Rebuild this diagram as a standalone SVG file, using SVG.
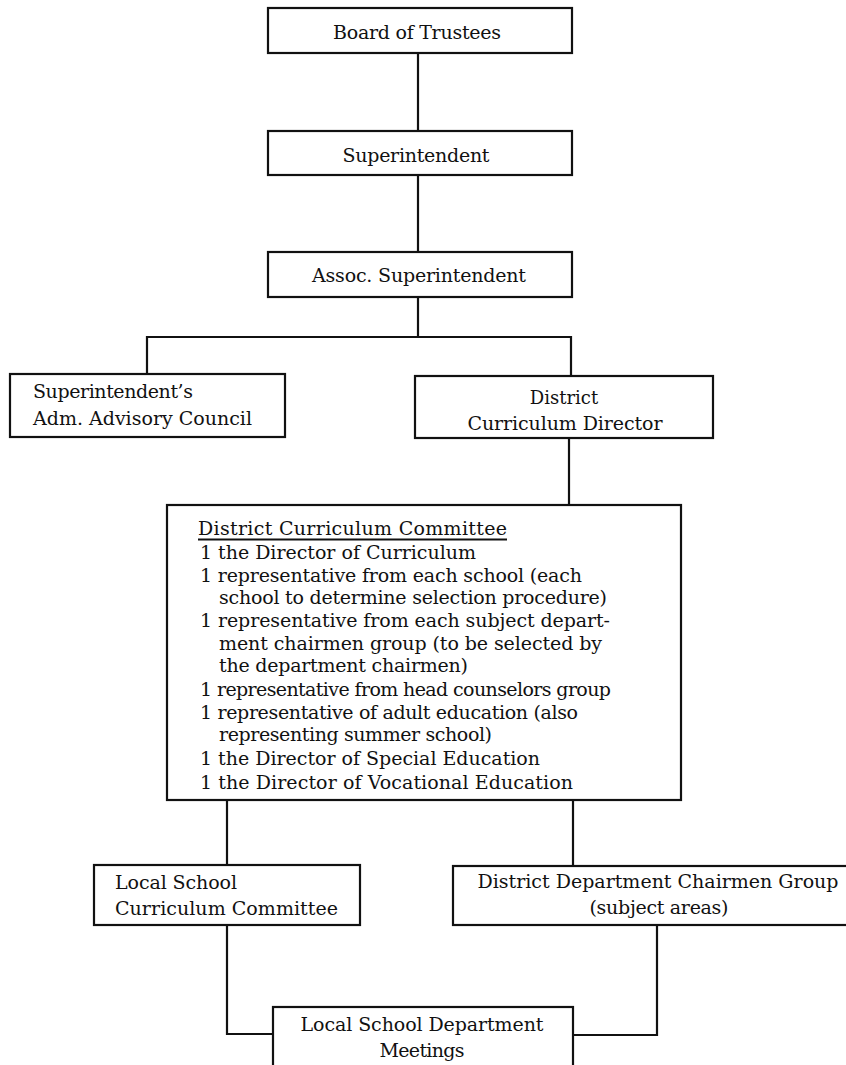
<svg xmlns="http://www.w3.org/2000/svg" width="846" height="1065" viewBox="0 0 846 1065">
<style>
.box{fill:#fff;stroke:#111;stroke-width:2.2}
.ln{fill:none;stroke:#111;stroke-width:2.2}
text{font-family:"DejaVu Serif","Liberation Serif",serif;font-size:19px;fill:#111}
.c{text-anchor:middle}
</style>
<rect width="846" height="1065" fill="#fff"/>
<g id="connectors">
<path class="ln" d="M418,53V131"/>
<path class="ln" d="M418,175V252"/>
<path class="ln" d="M418,297V337"/>
<path class="ln" d="M147,374V337H571V376"/>
<path class="ln" d="M569,438V505"/>
<path class="ln" d="M227,800V865"/>
<path class="ln" d="M573,800V866"/>
<path class="ln" d="M227,925V1034H273"/>
<path class="ln" d="M657,925V1035H573"/>
</g>
<g id="board">
<rect class="box" x="268" y="8" width="304" height="45"/>
<text class="c" x="417" y="39" textLength="168">Board of Trustees</text>
</g>
<g id="superintendent">
<rect class="box" x="268" y="131" width="304" height="44"/>
<text class="c" x="416" y="162" textLength="147">Superintendent</text>
</g>
<g id="assoc">
<rect class="box" x="268" y="252" width="304" height="45"/>
<text class="c" x="419" y="282" textLength="214">Assoc. Superintendent</text>
</g>
<g id="advisory">
<rect class="box" x="10" y="374" width="275" height="63"/>
<text x="33" y="398" textLength="160">Superintendent’s</text>
<text x="33" y="425" textLength="219">Adm. Advisory Council</text>
</g>
<g id="director">
<rect class="box" x="415" y="376" width="298" height="62"/>
<text class="c" x="564" y="404" style="font-size:18px">District</text>
<text class="c" x="565" y="430" textLength="195">Curriculum Director</text>
</g>
<g id="committee">
<rect class="box" x="167" y="505" width="514" height="295"/>
<text x="198" y="535" textLength="309">District Curriculum Committee</text>
<path class="ln" d="M198,539.5H507" stroke-width="1.5"/>
<text x="200" y="559" textLength="276">1 the Director of Curriculum</text>
<text x="200" y="582" textLength="382">1 representative from each school (each</text>
<text x="219" y="604" textLength="388">school to determine selection procedure)</text>
<text x="200" y="627" textLength="410">1 representative from each subject depart-</text>
<text x="219" y="650" textLength="383">ment chairmen group (to be selected by</text>
<text x="219" y="672" textLength="249">the department chairmen)</text>
<text x="200" y="696" textLength="411">1 representative from head counselors group</text>
<text x="200" y="719" textLength="378">1 representative of adult education (also</text>
<text x="219" y="741" textLength="273">representing summer school)</text>
<text x="200" y="765" textLength="340">1 the Director of Special Education</text>
<text x="200" y="789" textLength="373">1 the Director of Vocational Education</text>
</g>
<g id="local-committee">
<rect class="box" x="94" y="865" width="266" height="60"/>
<text x="115" y="889" textLength="122">Local School</text>
<text x="115" y="915" textLength="223">Curriculum Committee</text>
</g>
<g id="chairmen-group">
<rect class="box" x="453" y="866" width="395" height="59"/>
<text class="c" x="658" y="888" textLength="361">District Department Chairmen Group</text>
<text class="c" x="659" y="914" textLength="139">(subject areas)</text>
</g>
<g id="department-meetings">
<rect class="box" x="273" y="1007" width="300" height="70"/>
<text class="c" x="422" y="1031" textLength="243">Local School Department</text>
<text class="c" x="422" y="1057" textLength="85">Meetings</text>
</g>
</svg>
